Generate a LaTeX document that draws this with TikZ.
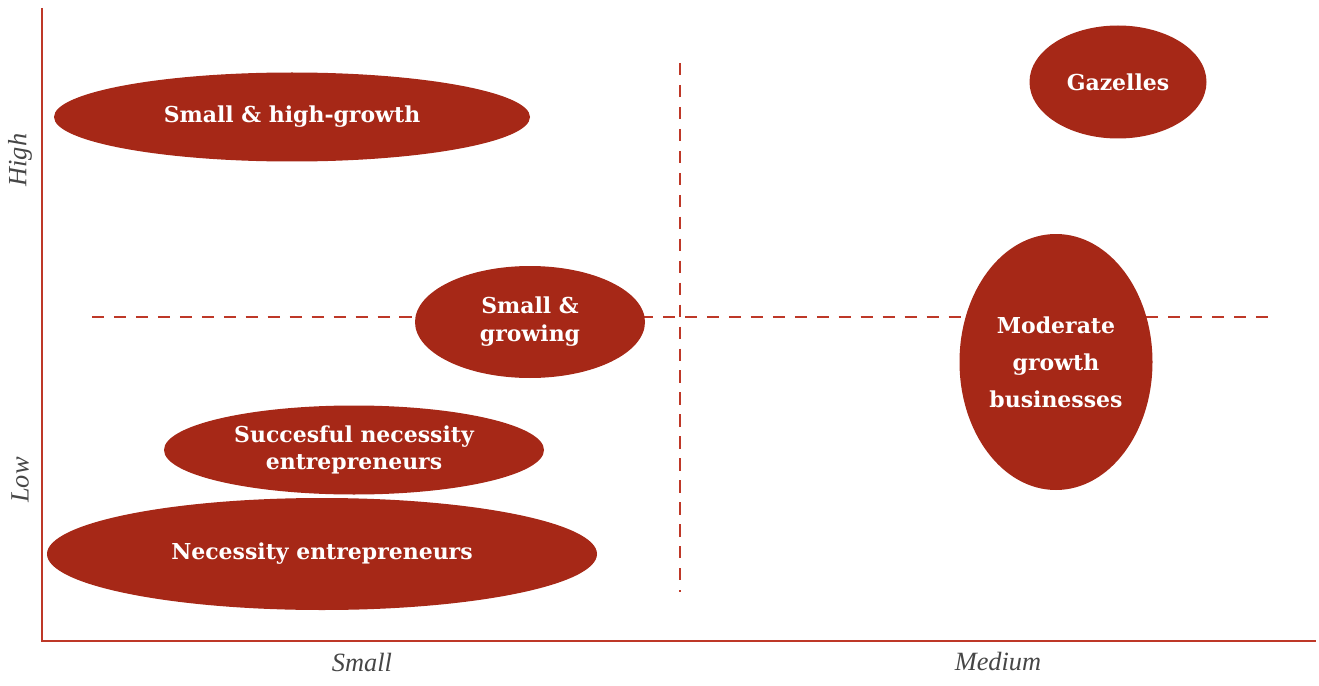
\documentclass[tikz,border=0pt]{standalone}
\usepackage{fontspec}
\setmainfont{DejaVu Serif}
\newfontfamily\axisfont{Liberation Serif}
\usetikzlibrary{shapes.geometric}
\definecolor{firmred}{RGB}{166,40,23}
\definecolor{axisred}{RGB}{190,56,40}
\definecolor{labelgray}{RGB}{70,70,70}
\def\px{0.02cm}
\tikzset{
  group/.style={ellipse, fill=firmred, text=white, inner sep=0pt,
    font=\bfseries\fontsize{12.5}{15}\selectfont, align=center},
  size/.style 2 args={minimum width=#1*\px, minimum height=#2*\px},
  axislabel/.style={text=labelgray, font=\axisfont\itshape\fontsize{15}{18}\selectfont},
  divider/.style={axisred, line width=0.6pt, dash pattern=on 7pt off 5.5pt}
}
\begin{document}
\begin{tikzpicture}[x=0.02cm, y=-0.02cm]
    \useasboundingbox (0,0) rectangle (1319,686);

    % axes
    \coordinate (top) at (42,8);
    \coordinate (origin) at (42,641);
    \coordinate (right) at (1316,641);
    \draw[axisred, line width=1.4pt] (top) -- (origin) -- (right);

    % quadrant dividers
    \coordinate (hl) at (92,317);
    \coordinate (hr) at (1270,317);
    \coordinate (vt) at (680,63);
    \coordinate (vb) at (680,592);
    \draw[divider] (hl) -- (hr);
    \draw[divider] (vt) -- (vb);

    % axis labels
    \node[axislabel, rotate=90] (high) at (20,160) {High};
    \node[axislabel, rotate=90] (low) at (20,480) {Low};
    \node[axislabel] (small) at (362,662) {Small};
    \node[axislabel] (medium) at (998,662) {Medium};

    % business groups
    \node[group, size={476}{89}] (shg) at (292,117) {Small \& high-growth};
    \node[group, size={230}{112}, font=\bfseries\fontsize{12.5}{16}\selectfont] (sgr) at (530,322) {Small \&\\growing};
    \node[group, size={380}{89}] (sne) at (354,450) {Succesful necessity\\entrepreneurs};
    \node[group, size={550}{112}] (nec) at (322,554) {Necessity entrepreneurs};
    \node[group, size={177}{113}] (gaz) at (1118,82) {Gazelles};
    \node[group, size={193}{256}, font=\bfseries\fontsize{12.5}{21}\selectfont] (mod) at (1056,362) {Moderate\\growth\\businesses};
\end{tikzpicture}
\end{document}
